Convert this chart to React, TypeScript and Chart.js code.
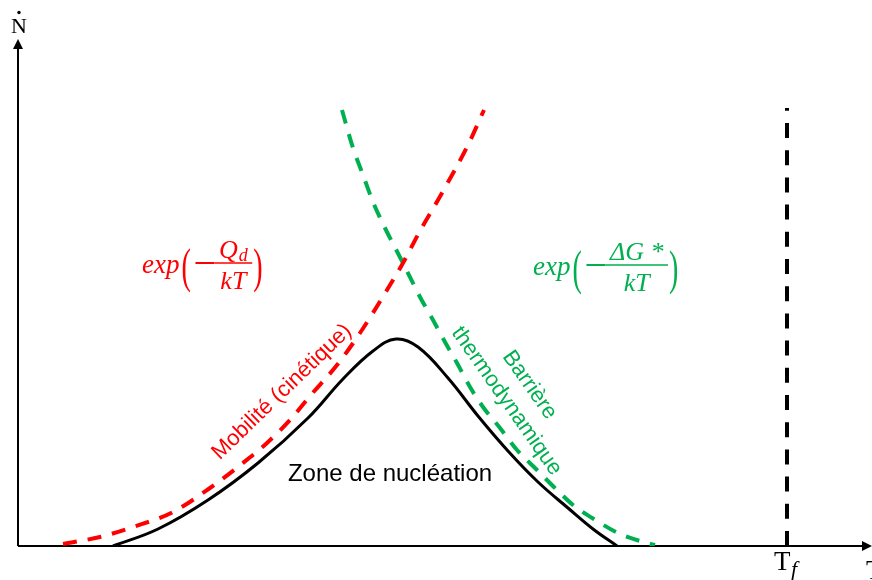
import React, { useEffect, useRef } from "react";
import { Chart, registerables } from "chart.js";

Chart.register(...registerables);

// Nucleation rate Ṅ versus temperature T (schematic, arbitrary units)
const nucleationT = [95, 140, 190, 240, 290, 325, 355, 378, 400, 430, 460, 490, 520, 550, 575, 599];
const nucleationN = [0, 17, 46, 83, 128, 167, 195, 207, 199, 168, 130, 95, 64, 38, 17, 0];

// Atomic mobility term exp(-Qd/kT)
const mobilityT = [45, 82, 115, 155, 192, 225, 249, 272, 292, 319, 342, 369, 385, 402, 424, 450, 466];
const mobilityN = [2, 9, 19, 34, 58, 83, 103, 126, 150, 181, 213, 256, 283, 315, 353, 401, 436];

// Thermodynamic barrier term exp(-ΔG*/kT)
const barrierT = [324, 335, 345, 355, 367, 385, 402, 415, 427, 439, 452, 465, 482, 499, 519, 539, 555, 579, 602, 629, 637];
const barrierN = [436, 398, 371, 344, 318, 283, 249, 226, 204, 183, 159, 139, 118, 96, 76, 56, 41, 25, 12, 3, 1];

// Melting temperature marker
const meltingT = [769, 769];
const meltingN = [0, 438];

const RED = "#FF0000";
const GREEN = "#00B050";
const SANS = '"Liberation Sans", Arial, sans-serif';
const SERIF = '"Liberation Serif", "Times New Roman", serif';

const toPoints = (xs: number[], ys: number[]) => xs.map((x, i) => ({ x, y: ys[i] }));

function drawParen(ctx: CanvasRenderingContext2D, ch: string, x: number, cy: number) {
  ctx.save();
  ctx.font = `28px ${SERIF}`;
  ctx.textBaseline = "middle";
  ctx.textAlign = "left";
  ctx.translate(x, cy);
  ctx.scale(1, 1.75);
  ctx.fillText(ch, 0, 0);
  ctx.restore();
}

// exp(− num / den) written as a built-up fraction
function drawFormula(
  ctx: CanvasRenderingContext2D,
  x0: number,
  barY: number,
  color: string,
  drawNum: (cx: number) => void,
  numWidth: number
) {
  ctx.save();
  ctx.fillStyle = color;
  ctx.strokeStyle = color;
  ctx.textBaseline = "alphabetic";
  ctx.textAlign = "left";
  ctx.font = `italic 27px ${SERIF}`;
  ctx.fillText("exp", x0, barY + 10);
  let x = x0 + ctx.measureText("exp").width + 2;
  drawParen(ctx, "(", x, barY + 6);
  x += 12;
  // minus sign
  ctx.lineWidth = 2;
  ctx.beginPath();
  ctx.moveTo(x + 2, barY);
  ctx.lineTo(x + 21, barY);
  ctx.stroke();
  x += 21;
  ctx.font = `italic 26px ${SERIF}`;
  const denW = ctx.measureText("kT").width;
  const barW = Math.max(numWidth, denW) + 9;
  ctx.lineWidth = 1.5;
  ctx.beginPath();
  ctx.moveTo(x, barY);
  ctx.lineTo(x + barW, barY);
  ctx.stroke();
  const cx = x + barW / 2;
  drawNum(cx);
  ctx.font = `italic 26px ${SERIF}`;
  ctx.textAlign = "center";
  ctx.fillText("kT", cx, barY + 26);
  ctx.textAlign = "left";
  drawParen(ctx, ")", x + barW + 1, barY + 6);
  ctx.restore();
}

function rotatedText(
  ctx: CanvasRenderingContext2D,
  lines: string[],
  cx: number,
  cy: number,
  deg: number,
  color: string,
  gap: number,
  size: number
) {
  ctx.save();
  ctx.translate(cx, cy);
  ctx.rotate((deg * Math.PI) / 180);
  ctx.fillStyle = color;
  ctx.font = `${size}px ${SANS}`;
  ctx.textAlign = "center";
  ctx.textBaseline = "middle";
  const off = ((lines.length - 1) * gap) / 2;
  lines.forEach((l, i) => ctx.fillText(l, 0, i * gap - off));
  ctx.restore();
}

const axesPlugin = {
  id: "axesPlugin",
  beforeDatasetsDraw(chart: any) {
    const { ctx, chartArea, scales } = chart;
    const ox = scales.x.getPixelForValue(0);
    const oy = scales.y.getPixelForValue(0);
    ctx.save();
    ctx.strokeStyle = "#000";
    ctx.fillStyle = "#000";
    ctx.lineWidth = 2;
    ctx.beginPath();
    ctx.moveTo(ox, oy);
    ctx.lineTo(ox, chartArea.top + 2);
    ctx.moveTo(ox, oy);
    ctx.lineTo(chartArea.right + 2, oy);
    ctx.stroke();
    // arrow heads
    const tipY = chartArea.top - 7;
    ctx.beginPath();
    ctx.moveTo(ox, tipY);
    ctx.lineTo(ox - 5, tipY + 10);
    ctx.lineTo(ox + 5, tipY + 10);
    ctx.closePath();
    ctx.fill();
    const tipX = chartArea.right + 10;
    ctx.beginPath();
    ctx.moveTo(tipX, oy);
    ctx.lineTo(tipX - 10, oy - 5);
    ctx.lineTo(tipX - 10, oy + 5);
    ctx.closePath();
    ctx.fill();

    // axis titles
    ctx.font = `22px ${SERIF}`;
    ctx.textAlign = "center";
    ctx.textBaseline = "alphabetic";
    ctx.fillText("N", ox + 1, 33);
    ctx.beginPath();
    ctx.arc(ox + 1, 12.5, 1.7, 0, Math.PI * 2);
    ctx.fill();
    ctx.font = `27px ${SERIF}`;
    ctx.textAlign = "left";
    ctx.fillText("T", tipX - 6, oy + 33);

    // melting temperature label
    const tf = scales.x.getPixelForValue(meltingT[0]);
    ctx.font = `27px ${SERIF}`;
    ctx.fillText("T", tf - 13, oy + 24);
    ctx.font = `italic 22px ${SERIF}`;
    ctx.fillText("f", tf + 4, oy + 30);
    ctx.restore();
  },
  afterDatasetsDraw(chart: any) {
    const { ctx, scales } = chart;
    const px = (t: number) => scales.x.getPixelForValue(t);
    const py = (n: number) => scales.y.getPixelForValue(n);

    // exp(-Qd/kT)
    ctx.save();
    ctx.font = `italic 26px ${SERIF}`;
    const qW = ctx.measureText("Q").width;
    ctx.font = `italic 18px ${SERIF}`;
    const dW = ctx.measureText("d").width;
    ctx.restore();
    const redBar = py(283);
    drawFormula(ctx, px(124), redBar, RED, (cx) => {
      const left = cx - (qW + dW + 1) / 2;
      ctx.font = `italic 26px ${SERIF}`;
      ctx.textAlign = "left";
      ctx.fillText("Q", left, redBar - 5);
      ctx.font = `italic 18px ${SERIF}`;
      ctx.fillText("d", left + qW + 1, redBar - 2);
    }, qW + dW + 1);

    // exp(-ΔG*/kT)
    ctx.save();
    ctx.font = `italic 26px ${SERIF}`;
    const gW = ctx.measureText("ΔG *").width;
    ctx.restore();
    const greenBar = py(281);
    drawFormula(ctx, px(515), greenBar, GREEN, (cx) => {
      ctx.font = `italic 26px ${SERIF}`;
      ctx.textAlign = "center";
      ctx.fillText("ΔG *", cx, greenBar - 5);
    }, gW);

    rotatedText(ctx, ["Mobilité (cinétique)"], px(264), py(154), -44, RED, 0, 22);
    rotatedText(ctx, ["Barrière", "thermodynamique"], px(500), py(153), 55, GREEN, 28, 22);
    rotatedText(ctx, ["Zone de nucléation"], px(372), py(72), 0, "#000", 0, 24);
  },
};

export default function App() {
  const ref = useRef<HTMLCanvasElement | null>(null);

  useEffect(() => {
    if (!ref.current) return;
    const chart = new Chart(ref.current, {
      type: "line",
      data: {
        datasets: [
          {
            data: toPoints(nucleationT, nucleationN),
            borderColor: "#000",
            borderWidth: 3,
            tension: 0.4,
            pointRadius: 0,
          },
          {
            data: toPoints(mobilityT, mobilityN),
            borderColor: RED,
            borderWidth: 4,
            borderDash: [14, 11],
            cubicInterpolationMode: "monotone",
            pointRadius: 0,
          },
          {
            data: toPoints(barrierT, barrierN),
            borderColor: GREEN,
            borderWidth: 4,
            borderDash: [14, 11],
            cubicInterpolationMode: "monotone",
            pointRadius: 0,
          },
          {
            data: toPoints(meltingT, meltingN),
            borderColor: "#000",
            borderWidth: 4,
            borderDash: [15, 12.2],
            pointRadius: 0,
          },
        ],
      },
      options: {
        animation: false,
        responsive: false,
        devicePixelRatio: 1,
        layout: { padding: { left: 18, right: 10, top: 46, bottom: 34 } },
        plugins: { legend: { display: false }, tooltip: { enabled: false } },
        scales: {
          x: { type: "linear", min: 0, max: 844, display: false },
          y: { type: "linear", min: 0, max: 500, display: false },
        },
      },
      plugins: [axesPlugin],
    });
    return () => chart.destroy();
  }, []);

  return (
    <div style={{ position: "fixed", left: 0, top: 0, width: 872, height: 580, background: "#fff" }}>
      <canvas ref={ref} width={872} height={580} />
    </div>
  );
}
